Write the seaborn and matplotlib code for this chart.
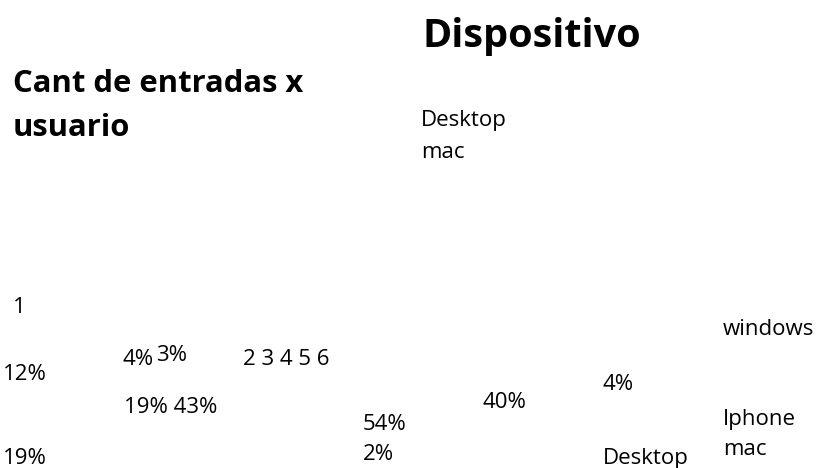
#! /usr/bin/env python3
'''
Cant de entradas x usuario / Dispositivo: only the text layer of the two pies
'''
# imports
import matplotlib.pyplot as plt
import seaborn as sns

# settings
sns.set_style("white")
plt.rcParams['font.family'] = ['Open Sans', 'DejaVu Sans']
plt.rcParams['text.color'] = 'black'

# data
titulos = ["Dispositivo", "Cant de entradas x", "usuario"]
entradas_categorias = ["1", "2 3 4 5 6"]
entradas_porcentajes = ["12%", "4%", "3%", "19% 43%", "19%", "54%", "2%"]
dispositivo_etiquetas = ["Desktop", "mac", "windows", "Iphone", "mac", "Desktop"]
dispositivo_porcentajes = ["40%", "4%"]

# layout (pixels from the top left corner, baseline of each text)
pos_titulos = [(423, 47), (13, 92), (13, 136)]
pos_categorias = [(13, 313), (243, 365)]
pos_porcentajes = [(3, 380), (123, 365), (156, 361), (124, 413), (3, 464), (363, 430), (363, 460)]
pos_etiquetas = [(421, 126), (421, 158), (723, 335), (723, 425), (723, 455), (603, 464)]
pos_disp_pct = [(483, 408), (603, 390)]

fig = plt.figure(figsize=(8.17, 4.68), dpi=100)
ax = fig.add_axes([0, 0, 1, 1])
ax.set_xlim(0, 817)
ax.set_ylim(468, 0)
ax.axis('off')

for i, t in enumerate(titulos):
    ax.text(*pos_titulos[i], t, fontsize=28.5 if i == 0 else 22.3, fontweight='bold',
            ha='left', va='baseline', color='black')
for texts, pos in [(entradas_categorias, pos_categorias),
                   (entradas_porcentajes, pos_porcentajes),
                   (dispositivo_etiquetas, pos_etiquetas),
                   (dispositivo_porcentajes, pos_disp_pct)]:
    for t, p in zip(texts, pos):
        ax.text(*p, t, fontsize=16, ha='left', va='baseline', color='black')

fig.savefig('out.png', dpi=100)
plt.close()
